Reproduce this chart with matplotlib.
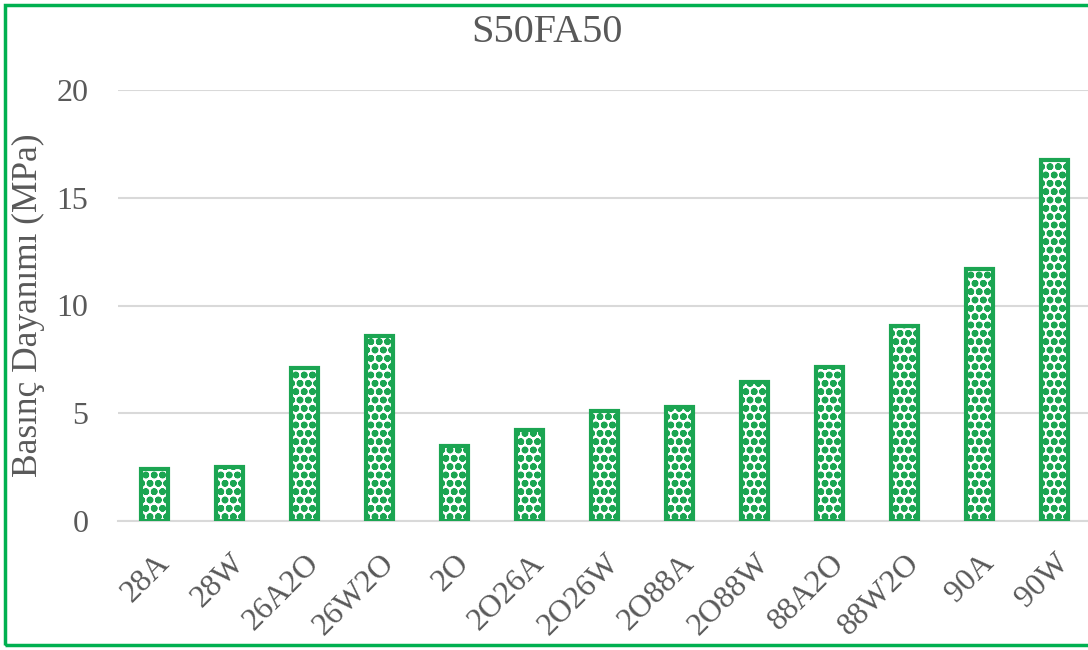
import matplotlib.pyplot as plt
from matplotlib.patches import Rectangle

# numunelerin basinc dayanimi degerleri
numuneler = ['28A', '28W', '26A2O', '26W2O', '2O', '2O26A', '2O26W',
             '2O88A', '2O88W', '88A2O', '88W2O', '90A', '90W']
dayanim = [2.4, 2.5, 7.1, 8.6, 3.5, 4.2, 5.1, 5.3, 6.45, 7.15, 9.05, 11.7, 16.75]

yesil = '#1BA552'
gri = '#595959'

plt.rcParams['font.family'] = ['Liberation Serif', 'DejaVu Serif']
plt.rcParams['hatch.color'] = yesil
plt.rcParams['hatch.linewidth'] = 2.4

fig = plt.figure(figsize=(10.88, 6.5), dpi=100)
W, H = 1088, 650
ax = fig.add_axes([117.5 / W, 1 - 521 / H, (1092 - 117.5) / W, (521 - 90) / H])

x = range(len(numuneler))
ax.bar(x, dayanim, width=0.36, color='white', edgecolor=yesil,
       linewidth=3, hatch='oo', zorder=3)

ax.set_xlim(-0.5, len(numuneler) - 0.5)
ax.set_ylim(0, 20)
ax.set_yticks([0, 5, 10, 15, 20])
ax.yaxis.grid(True, color='#D9D9D9', linewidth=1.5)
ax.set_axisbelow(True)
for s in ['top', 'right', 'left']:
    ax.spines[s].set_visible(False)
ax.spines['bottom'].set_color('#D9D9D9')
ax.spines['bottom'].set_linewidth(1.5)
ax.tick_params(length=0, labelsize=23, colors=gri, pad=20)
ax.tick_params(axis='y', pad=21)
ax.set_xticks(list(x))
ax.set_xticklabels(numuneler, rotation=45, ha='right', rotation_mode='anchor')

ax.set_ylabel('Basınç Dayanımı (MPa)', fontsize=25.5, color=gri)
ax.yaxis.set_label_coords(-72 / (1092 - 117.5), 0.5)
fig.text(547 / W, 1 - 32 / H, 'S50FA50', fontsize=29, color=gri,
         ha='center', va='center')

# cerceve
fig.patches.append(Rectangle((5 / W, 5 / H), 1.1, 640 / H, transform=fig.transFigure,
                             fill=False, edgecolor='#00B050', linewidth=2.5))

fig.savefig('out.png', dpi=100)
